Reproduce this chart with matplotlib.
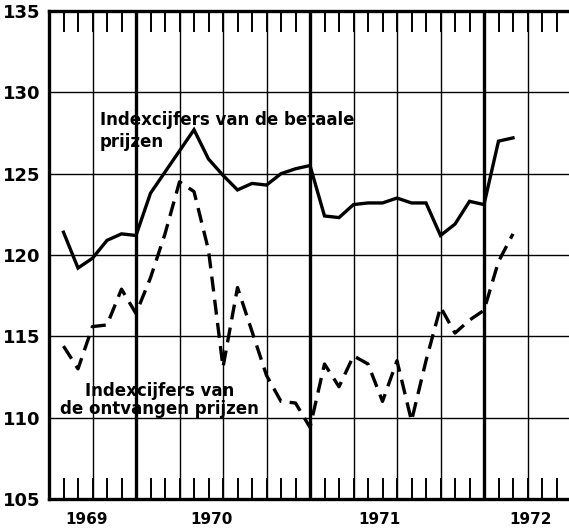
"""
Index numbers of paid and received prices, mid 1969 - mid 1972.
"""

import matplotlib

matplotlib.use("Agg")

import matplotlib.pyplot as plt
import numpy as np

# months counted from July 1969 (0 = start of July 1969)
months = list(range(1, 33))

betaalde = [
    121.4, 119.2, 119.8, 120.9, 121.3, 121.2, 123.8, 125.1,
    126.4, 127.7, 125.9, 124.9, 124.0, 124.4, 124.3, 125.0,
    125.3, 125.5, 122.4, 122.3, 123.1, 123.2, 123.2, 123.5,
    123.2, 123.2, 121.2, 121.9, 123.3, 123.1, 127.0, 127.2,
]

ontvangen = [
    114.4, 113.0, 115.6, 115.7, 117.9, 116.4, 118.6, 121.3,
    124.5, 123.9, 120.3, 113.1, 118.0, 115.3, 112.6, 111.0,
    110.9, 109.4, 113.3, 111.9, 113.8, 113.3, 111.0, 113.5,
    109.8, 113.5, 116.8, 115.2, 116.0, 116.6, 119.6, 121.3,
]

year_labels = ["1969", "1970", "1971", "1972"]
year_label_pos = [2.6, 11.2, 22.8, 33.2]

y_ticks = [105, 110, 115, 120, 125, 130, 135]

W, H = 569, 531
fig = plt.figure(figsize=(W / 100, H / 100), dpi=100)

# axes run slightly past the right edge, as in the scanned original
ax = fig.add_axes([49 / W, (H - 499) / H, 522 / W, 488 / H])

ax.set_xlim(0, 36)
ax.set_ylim(105, 135)

# grid: horizontal every 5, vertical every quarter, thick at year starts
for v in y_ticks[1:-1]:
    ax.axhline(v, color="black", linewidth=1.0, zorder=1)

for q in range(3, 36, 3):
    thick = q in (6, 18, 30)
    ax.axvline(q, color="black", linewidth=2.4 if thick else 1.0, zorder=1)

# data lines
ax.plot(
    months,
    betaalde,
    color="black",
    linewidth=2.4,
    solid_joinstyle="miter",
    zorder=3,
)

ax.plot(
    months,
    ontvangen,
    color="black",
    linewidth=2.4,
    dashes=(4.5, 2.5),
    zorder=3,
)

# labels in the plot
ax.text(
    3.5,
    127.6,
    "Indexcijfers van de betaale\nprijzen",
    fontsize=12,
    fontweight="bold",
    ha="left",
    va="center",
    linespacing=1.3,
    zorder=4,
)

ax.text(
    7.65,
    111.1,
    "Indexcijfers van\nde ontvangen prijzen",
    fontsize=12,
    fontweight="bold",
    ha="center",
    va="center",
    linespacing=1.0,
    zorder=4,
)

# axes and ticks
for side in ("left", "top", "bottom"):
    ax.spines[side].set_linewidth(2.4)
ax.spines["right"].set_visible(False)

ax.set_yticks(y_ticks)
ax.set_yticklabels([str(v) for v in y_ticks], fontsize=13, fontweight="bold")

ax.set_xticks(year_label_pos)
ax.set_xticklabels(year_labels, fontsize=11, fontweight="bold")

ax.set_xticks(np.arange(1, 36), minor=True)
ax.tick_params(axis="x", which="major", length=0, pad=9)
ax.tick_params(
    axis="x",
    which="minor",
    direction="in",
    length=15,
    width=1.4,
    top=True,
    bottom=True,
)
ax.tick_params(axis="y", length=0, pad=6)

fig.savefig("out.png", dpi=100)
